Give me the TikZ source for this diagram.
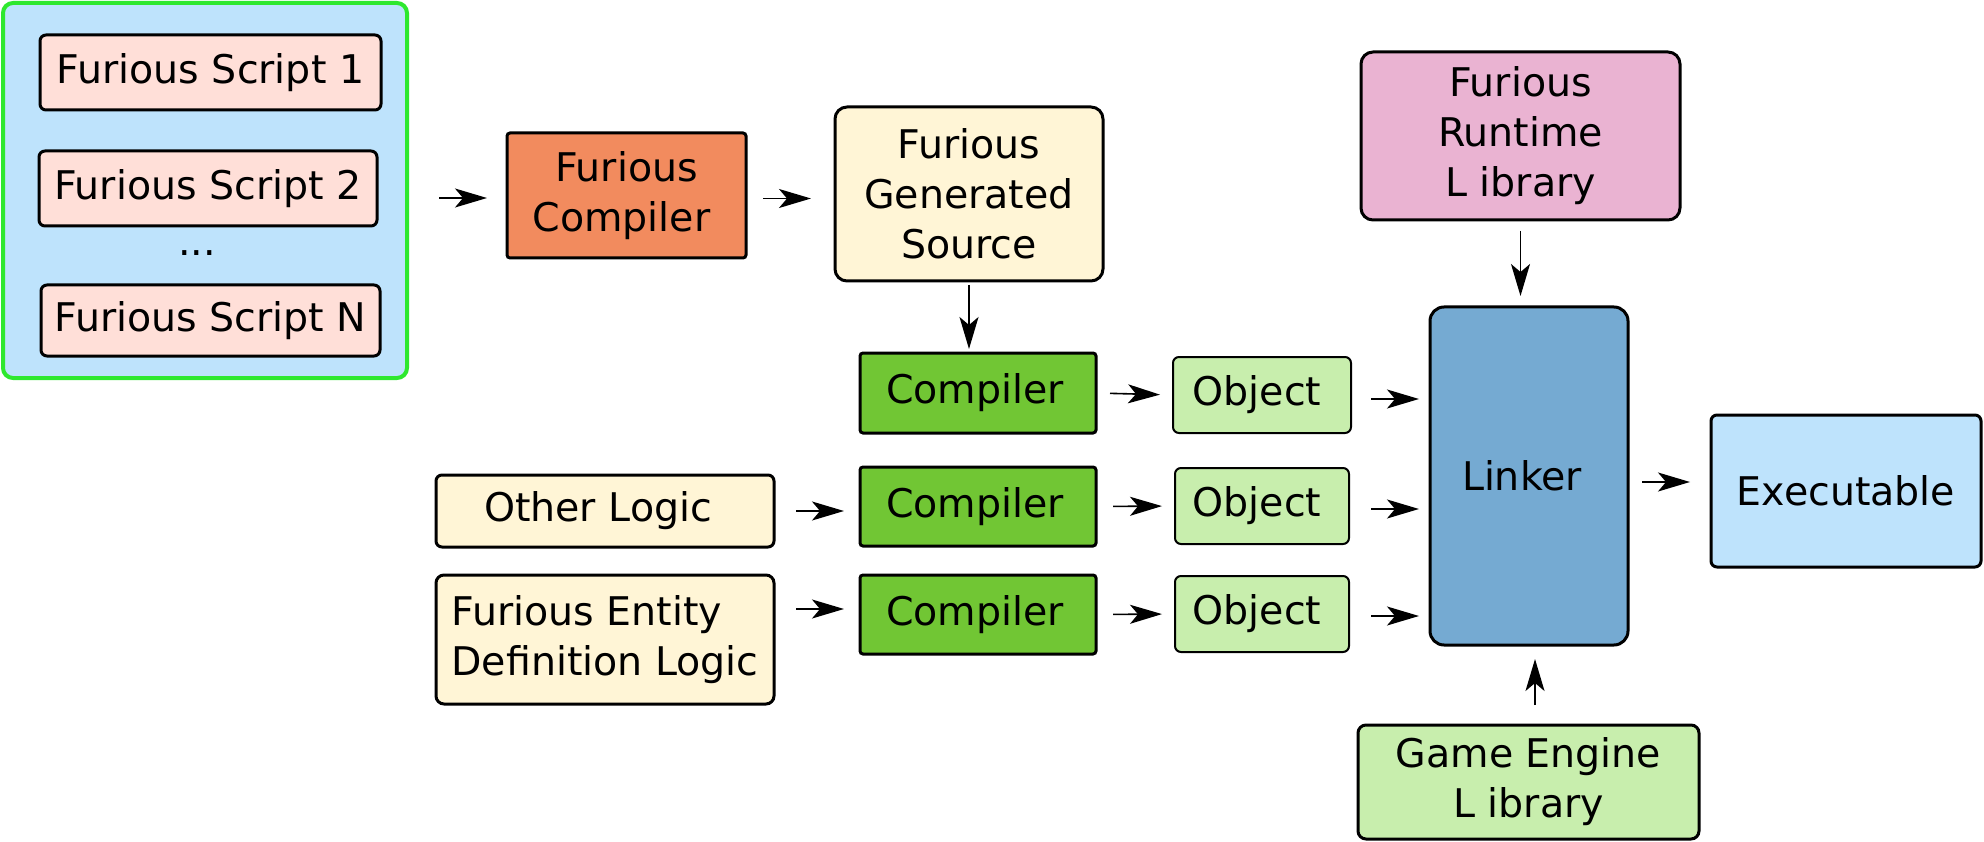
\documentclass[tikz,border=0pt]{standalone}
\usepackage{fontspec}
\setmainfont{DejaVu Sans}
\usetikzlibrary{arrows.meta}
\definecolor{cBlue}{HTML}{BEE3FC}
\definecolor{cGreenB}{HTML}{2EE82E}
\definecolor{cPink}{HTML}{FFDFD8}
\definecolor{cOrange}{HTML}{F28B5E}
\definecolor{cCream}{HTML}{FFF5D6}
\definecolor{cGreen}{HTML}{71C634}
\definecolor{cLGreen}{HTML}{C8EEAD}
\definecolor{cLinker}{HTML}{75AAD2}
\definecolor{cRose}{HTML}{EAB3D2}
\tikzset{
  every node/.style={font=\fontsize{39.5pt}{50pt}\selectfont, inner sep=0pt, outer sep=0pt},
  blk/.style={draw=black, line width=3pt, rounded corners=#1},
  blk/.default=6pt,
  arr/.style={line width=1.6pt, -{Stealth[length=32pt, width=19pt, inset=8pt]}},
}
\begin{document}
\begin{tikzpicture}[x=1pt, y=-1pt]
\useasboundingbox (0,0) rectangle (1984,842);
% scripts group
\node[draw=cGreenB, line width=4pt, fill=cBlue, rounded corners=10pt, minimum width=404pt, minimum height=375pt] (sc) at (205,190.5) {};
\node[blk, fill=cPink, minimum width=341pt, minimum height=75pt] (s1) at (210.5,72.5) {Furious Script 1};
\node[blk, fill=cPink, minimum width=338pt, minimum height=75pt] (s2) at (208,188.5) {Furious Script 2};
\node[anchor=base] (dots) at (197,256) {...};
\node[blk, fill=cPink, minimum width=339pt, minimum height=71pt] (sn) at (210.5,320.5) {Furious Script N};
% furious compiler and generated source
\node[blk=3pt, fill=cOrange, minimum width=239pt, minimum height=125pt, align=center] (fc) at (626.5,195.5) {Furious\\Compiler\hspace*{10pt}};
\node[blk=12pt, fill=cCream, minimum width=268pt, minimum height=174pt, align=center] (gs) at (969,194) {Furious\\Generated\\Source};
% compilers
\node[blk=3pt, fill=cGreen, minimum width=236pt, minimum height=80pt] (c1) at (978,393) {Compiler\hspace*{6pt}};
\node[blk=3pt, fill=cGreen, minimum width=236pt, minimum height=79pt] (c2) at (978,506.5) {Compiler\hspace*{6pt}};
\node[blk=3pt, fill=cGreen, minimum width=236pt, minimum height=79pt] (c3) at (978,614.5) {Compiler\hspace*{6pt}};
% other inputs
\node[blk, fill=cCream, minimum width=338pt, minimum height=72pt] (ol) at (605,511) {Other Logic\hspace*{14pt}};
\node[blk=8pt, fill=cCream, minimum width=338pt, minimum height=129pt, align=left] (en) at (605,639.5) {Furious Entity\\Definition Logic};
% objects
\node[blk, line width=2pt, fill=cLGreen, minimum width=178pt, minimum height=76pt] (o1) at (1262,395) {Object\hspace*{10pt}};
\node[blk, line width=2pt, fill=cLGreen, minimum width=174pt, minimum height=76pt] (o2) at (1262,506) {Object\hspace*{10pt}};
\node[blk, line width=2pt, fill=cLGreen, minimum width=174pt, minimum height=76pt] (o3) at (1262,614) {Object\hspace*{10pt}};
% linker etc
\node[blk=14pt, fill=cLinker, minimum width=198pt, minimum height=338pt] (lk) at (1529,476) {Linker\hspace*{14pt}};
\node[blk, fill=cBlue, minimum width=270pt, minimum height=152pt] (ex) at (1846,491) {Executable};
\node[blk=12pt, fill=cRose, minimum width=319pt, minimum height=168pt, align=center] (rt) at (1520.5,136) {Furious\\Runtime\\L ibrary};
\node[blk=8pt, fill=cLGreen, minimum width=341pt, minimum height=114pt, align=center] (ge) at (1528.5,782) {Game Engine\\L ibrary};
% connectors
\draw[arr, shorten <=32pt, shorten >=20pt] ([yshift=-2.5pt]sc.east |- fc.west) -- ([yshift=-2.5pt]fc.west);
\draw[arr, shorten <=17pt, shorten >=24pt] ([yshift=-3pt]fc.east) -- ([yshift=-3pt]fc.east -| gs.west);
\draw[arr, shorten <=4pt, shorten >=4pt] (gs.south) -- (gs.south |- c1.north);
\draw[arr, shorten <=14pt, shorten >=13pt] (c1.east) -- (o1.west);
\draw[arr, shorten <=17pt, shorten >=13pt] (c2.east) -- (o2.west);
\draw[arr, shorten <=17pt, shorten >=13pt] (c3.east) -- (o3.west);
\draw[arr, shorten <=22pt, shorten >=16pt] (ol.east) -- (ol.east -| c2.west);
\draw[arr, shorten <=22pt, shorten >=16pt] ([yshift=30.5pt]en.east) -- ([yshift=30.5pt]en.east -| c3.west);
\draw[arr, shorten <=20pt, shorten >=11pt] ([yshift=-4pt]o1.east) -- ([yshift=-4pt]o1.east -| lk.west);
\draw[arr, shorten <=22pt, shorten >=11pt] ([yshift=-3pt]o2.east) -- ([yshift=-3pt]o2.east -| lk.west);
\draw[arr, shorten <=22pt, shorten >=11pt] ([yshift=-2pt]o3.east) -- ([yshift=-2pt]o3.east -| lk.west);
\draw[arr, shorten <=14pt, shorten >=21pt] ([yshift=-6pt]lk.east) -- ([yshift=-6pt]lk.east -| ex.west);
\draw[arr, shorten <=11pt, shorten >=11pt] (rt.south) -- (rt.south |- lk.north);
\draw[arr, shorten <=20pt, shorten >=14pt] ([xshift=6.5pt]ge.north) -- ([xshift=6.5pt]ge.north |- lk.south);
\end{tikzpicture}
\end{document}
